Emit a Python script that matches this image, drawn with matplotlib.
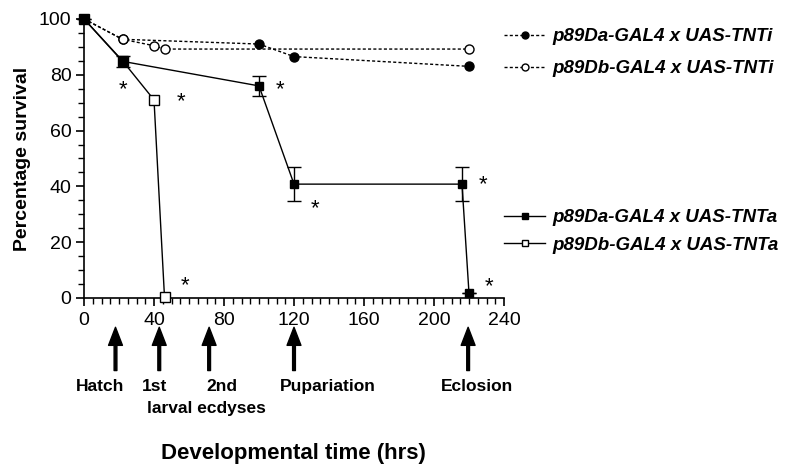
import matplotlib
matplotlib.use("Agg")
import matplotlib.pyplot as plt
from matplotlib.ticker import MultipleLocator
from matplotlib.lines import Line2D

plt.rcParams['font.family'] = ['Liberation Sans', 'DejaVu Sans']

# Data
da_tnti_x = [0, 22, 100, 120, 220]
da_tnti_y = [100, 92.7, 91, 86.5, 83]
db_tnti_x = [0, 22, 40, 46, 220]
db_tnti_y = [100, 92.7, 90.4, 89.2, 89.2]
da_tnta_x = [0, 22, 100, 120, 216, 220]
da_tnta_y = [100, 84.8, 76, 40.8, 40.8, 1.7]
da_tnta_err = [0, 2, 3.6, 6.2, 6.2, 0]
db_tnta_x = [0, 22, 40, 46]
db_tnta_y = [100, 85, 71, 0.3]

star_x = [22.5, 55.5, 112, 132, 58, 228, 231.5]
star_y = [74.5, 70.5, 74.5, 32, 4.3, 40.5, 4]

event_x = [18, 43, 71.5, 120, 219.5]
event_labels = ["Hatch", "1st", "2nd", "Pupariation", "Eclosion"]

labels = ["p89Da-GAL4 x UAS-TNTi", "p89Db-GAL4 x UAS-TNTi",
          "p89Da-GAL4 x UAS-TNTa", "p89Db-GAL4 x UAS-TNTa"]

fig = plt.figure(figsize=(8, 4.73), dpi=100)
ax = fig.add_axes([0.105, 0.37, 0.525, 0.59])

dot = (0, (2.2, 1.6))
ax.plot(da_tnti_x, da_tnti_y, color='black', lw=1, ls=dot, marker='o', ms=6.5,
        mfc='black', mec='black', clip_on=False, zorder=3)
ax.plot(db_tnti_x, db_tnti_y, color='black', lw=1, ls=dot, marker='o', ms=6.5,
        mfc='white', mec='black', clip_on=False, zorder=3)
ax.errorbar(da_tnta_x, da_tnta_y, yerr=da_tnta_err, color='black', lw=1,
            marker='s', ms=6, mfc='black', mec='black', capsize=5, elinewidth=1,
            capthick=1, clip_on=False, zorder=4)
ax.plot(db_tnta_x, db_tnta_y, color='black', lw=1, marker='s', ms=6.5,
        mfc='white', mec='black', clip_on=False, zorder=4)

for x, y in zip(star_x, star_y):
    ax.text(x, y, '*', ha='center', va='center', fontsize=16)

ax.set_xlim(0, 240)
ax.set_ylim(0, 100)
ax.xaxis.set_major_locator(MultipleLocator(40))
ax.xaxis.set_minor_locator(MultipleLocator(5))
ax.yaxis.set_major_locator(MultipleLocator(20))
ax.yaxis.set_minor_locator(MultipleLocator(5))
for s in ['top', 'right']:
    ax.spines[s].set_visible(False)
for s in ['left', 'bottom']:
    ax.spines[s].set_linewidth(1.2)
ax.tick_params(which='major', length=6, width=1.2, labelsize=14, pad=3)
ax.tick_params(axis='x', which='major', pad=4)
ax.tick_params(which='minor', length=4, width=1)

ax.set_ylabel('Percentage survival', fontsize=14, fontweight='bold', labelpad=6)

# event arrows
for x in event_x:
    ax.annotate('', xy=(x, -0.105), xytext=(x, -0.26),
                xycoords=('data', 'axes fraction'), textcoords=('data', 'axes fraction'),
                arrowprops=dict(facecolor='black', edgecolor='black', width=2,
                                headwidth=10, headlength=13, shrink=0),
                annotation_clip=False)

label_px = [100, 155, 222, 328, 477]
for px, lab in zip(label_px, event_labels):
    fig.text(px / 800, 1 - 386 / 473, lab, ha='center', va='center',
             fontsize=12.5, fontweight='bold')
fig.text(206 / 800, 1 - 408 / 473, 'larval ecdyses', ha='center', va='center',
         fontsize=12.5, fontweight='bold')
fig.text(293 / 800, 1 - 453 / 473, 'Developmental time (hrs)', ha='center',
         va='center', fontsize=16, fontweight='bold')

# legends
h1 = Line2D([], [], color='black', lw=1, ls=dot, marker='o', ms=5, mfc='black', mec='black')
h2 = Line2D([], [], color='black', lw=1, ls=dot, marker='o', ms=5, mfc='white', mec='black')
h3 = Line2D([], [], color='black', lw=1, marker='s', ms=5, mfc='black', mec='black')
h4 = Line2D([], [], color='black', lw=1, marker='s', ms=5, mfc='white', mec='black')
leg_kw = dict(frameon=False, handlelength=2.2, handletextpad=0.4,
              prop=dict(weight='bold', style='italic', size=13.5), borderpad=0,
              borderaxespad=0)
leg1 = fig.legend([h1, h2], labels[:2], loc='upper left', labelspacing=0.8,
                  bbox_to_anchor=(504 / 800, 1 - 28 / 473), **leg_kw)
leg2 = fig.legend([h3, h4], labels[2:], loc='upper left', labelspacing=0.55,
                  bbox_to_anchor=(504 / 800, 1 - 209 / 473), **leg_kw)

fig.savefig('out.png', dpi=100)
